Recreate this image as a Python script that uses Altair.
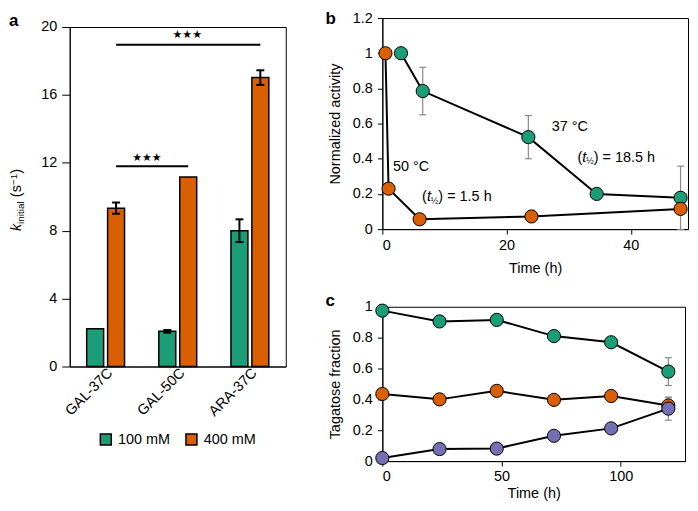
import altair as alt
import pandas as pd

GREEN = "#1b9e77"
ORANGE = "#d95f02"
PURPLE = "#7570b3"
GREY = "#8a8a8a"
FONT = "Liberation Sans"
FS = 14.5

# ---------------- panel a data ----------------
groups = ["GAL-37C", "GAL-50C", "ARA-37C"]
concs = ["100 mM", "400 mM"]
k_100 = [2.22, 2.07, 8.0]
k_100_err = [0.0, 0.08, 0.67]
k_400 = [9.33, 11.17, 17.02]
k_400_err = [0.33, 0.0, 0.43]
sig_from = ["GAL-37C", "GAL-37C"]
sig_to = ["ARA-37C", "GAL-50C"]
sig_level = [18.95, 11.8]
sig_star_y = [19.5, 12.3]
sig_label = ["★★★", "★★★"]

# ---------------- panel b data ----------------
time_37 = [3, 6.5, 23.5, 34.5, 48]
act_37 = [1.0, 0.785, 0.523, 0.20, 0.178]
err_37 = [0, 0.135, 0.123, 0, 0.18]
time_50 = [0.5, 1, 6, 24, 48]
act_50 = [1.0, 0.23, 0.056, 0.072, 0.115]
err_50 = [0, 0, 0, 0, 0]
temp_text = ["37 °C", "50 °C"]
temp_x = [27.25, 1.7]
temp_y = [0.58, 0.352]
hl_x = [31.4, 6.4]
hl_y = [0.407, 0.184]
hl_rest = [") = 18.5 h", ") = 1.5 h"]

# ---------------- panel c data ----------------
time_c = [0, 24, 48, 72, 96, 120]
frac_green = [0.975, 0.905, 0.915, 0.81, 0.77, 0.58]
err_green = [0, 0, 0, 0, 0, 0.09]
frac_orange = [0.435, 0.40, 0.455, 0.397, 0.422, 0.36]
err_orange = [0, 0, 0, 0, 0, 0.05]
frac_purple = [0.02, 0.078, 0.081, 0.164, 0.212, 0.34]
err_purple = [0, 0, 0, 0, 0, 0.075]


def one(text):
    return alt.Chart(pd.DataFrame({"t": [text]}))


def letter(text, x, y):
    return one(text).mark_text(font=FONT, fontSize=17, fontWeight="bold", align="left",
                               baseline="top", color="black").encode(
        x=alt.value(x), y=alt.value(y), text="t:N")


# ======================= PANEL A =======================
df_a = pd.DataFrame({
    "group": groups * 2,
    "conc": [concs[0]] * 3 + [concs[1]] * 3,
    "k": k_100 + k_400,
    "err": k_100_err + k_400_err,
})
df_a["lo"] = df_a["k"] - df_a["err"]
df_a["hi"] = df_a["k"] + df_a["err"]
df_a_err = df_a[df_a["err"] > 0]

x_scale_a = alt.Scale(domain=groups, paddingInner=0.475, paddingOuter=0.235)
xo_scale_a = alt.Scale(domain=concs, paddingInner=0.19, paddingOuter=0)
y_scale_a = alt.Scale(domain=[0, 20])
x_axis_a = alt.Axis(labelAngle=315, labelAlign="right", labelBaseline="middle",
                    ticks=False, labelPadding=4, labelOffset=5)
y_axis_a = alt.Axis(values=[0, 4, 8, 12, 16, 20], tickSize=8, labelPadding=5)


def xa():
    return alt.X("group:N", sort=groups, scale=x_scale_a, axis=x_axis_a, title=None)


def xoa():
    return alt.XOffset("conc:N", sort=concs, scale=xo_scale_a)


def ya(f):
    return alt.Y(f + ":Q", scale=y_scale_a, axis=y_axis_a, title=None)


bars = alt.Chart(df_a).mark_bar(stroke="black", strokeWidth=1.5).encode(
    x=xa(), xOffset=xoa(), y=ya("k"),
    color=alt.Color("conc:N", scale=alt.Scale(domain=concs, range=[GREEN, ORANGE]),
                    legend=alt.Legend(orient="none", legendX=29, legendY=416,
                                      direction="horizontal", title=None,
                                      symbolType="square", symbolSize=121,
                                      symbolStrokeColor="black", symbolStrokeWidth=1.5,
                                      symbolOpacity=1, labelFont=FONT, labelFontSize=FS,
                                      labelColor="black", columnPadding=12,
                                      labelOffset=5, padding=0)),
)
err_rule_a = alt.Chart(df_a_err).mark_rule(color="black", strokeWidth=2).encode(
    x=xa(), xOffset=xoa(), y=ya("lo"), y2="hi:Q")
cap_lo_a = alt.Chart(df_a_err).mark_tick(color="black", size=8, thickness=2,
                                         orient="horizontal", opacity=1).encode(
    x=xa(), xOffset=xoa(), y=ya("lo"))
cap_hi_a = alt.Chart(df_a_err).mark_tick(color="black", size=8, thickness=2,
                                         orient="horizontal", opacity=1).encode(
    x=xa(), xOffset=xoa(), y=ya("hi"))

sig_rows = []
for i, (g1, g2, lv) in enumerate(zip(sig_from, sig_to, sig_level)):
    sig_rows.append({"id": i, "group": g1, "conc": "400 mM", "level": lv})
    sig_rows.append({"id": i, "group": g2, "conc": "400 mM", "level": lv})
sig_line = alt.Chart(pd.DataFrame(sig_rows)).mark_line(color="black", strokeWidth=2).encode(
    x=xa(), xOffset=xoa(), y=ya("level"), detail="id:N")

star_top = alt.Chart(pd.DataFrame({"group": ["GAL-50C"], "conc": ["400 mM"],
                                   "sy": [sig_star_y[0]], "label": [sig_label[0]]})
                     ).mark_text(font="DejaVu Sans", fontSize=11, color="black", dx=-1).encode(
    x=xa(), xOffset=xoa(), y=ya("sy"), text="label:N")
star_low = alt.Chart(pd.DataFrame({"group": ["GAL-37C"], "conc": ["400 mM"],
                                   "sy": [sig_star_y[1]], "label": [sig_label[1]]})
                     ).mark_text(font="DejaVu Sans", fontSize=11, color="black", dx=31).encode(
    x=xa(), xOffset=xoa(), y=ya("sy"), text="label:N")


def rot_piece(text, x, y, size, style="normal"):
    return one(text).mark_text(font=FONT, fontSize=size, fontStyle=style, angle=270,
                               align="left", baseline="alphabetic", color="black").encode(
        x=alt.value(x), y=alt.value(y), text="t:N")


title_a = [
    rot_piece("k", -49, 205, FS, "italic"),
    rot_piece("initial", -46, 197.75, 10),
    rot_piece("(s", -49, 170.9, FS),
    rot_piece("−1", -53, 158.8, 10),
    rot_piece(")", -49, 147.4, FS),
]

panel_a = alt.layer(bars, err_rule_a, cap_lo_a, cap_hi_a, sig_line, star_top, star_low,
                    *title_a, letter("a", -61, -14)).properties(width=217, height=341)

# invisible 1-px strip that lets panel a sit lower than panel b
spacer_a = one("").mark_rule(strokeOpacity=0).encode(
    x=alt.value(0), x2=alt.value(1), y=alt.value(0)
).properties(width=217, height=1, view=alt.ViewBackground(stroke="transparent"))

# ======================= PANEL B =======================
df_b = pd.DataFrame({
    "time": time_37 + time_50,
    "act": act_37 + act_50,
    "err": err_37 + err_50,
    "series": ["37"] * len(time_37) + ["50"] * len(time_50),
    "fill": [GREEN] * len(time_37) + [ORANGE] * len(time_50),
})
df_b["lo"] = df_b["act"] - df_b["err"]
df_b["hi"] = df_b["act"] + df_b["err"]
df_b_err = df_b[df_b["err"] > 0]

x_axis_b = alt.Axis(values=[0, 20, 40], tickSize=5, labelPadding=4, titlePadding=10)
y_axis_b = alt.Axis(values=[0, 0.2, 0.4, 0.6, 0.8, 1.0, 1.2], format="~g", tickSize=5,
                    labelPadding=5, titlePadding=10)


def xb(f="time"):
    return alt.X(f + ":Q", scale=alt.Scale(domain=[0, 49.2]), axis=x_axis_b, title="Time (h)")


def yb(f):
    return alt.Y(f + ":Q", scale=alt.Scale(domain=[0, 1.2]), axis=y_axis_b,
                 title="Normalized activity")


err_b = alt.Chart(df_b_err).mark_rule(color=GREY, strokeWidth=1.2).encode(
    x=xb(), y=yb("lo"), y2="hi:Q")
cap1_b = alt.Chart(df_b_err).mark_tick(color=GREY, size=7, thickness=1.2,
                                       orient="horizontal", opacity=1).encode(x=xb(), y=yb("lo"))
cap2_b = alt.Chart(df_b_err).mark_tick(color=GREY, size=7, thickness=1.2,
                                       orient="horizontal", opacity=1).encode(x=xb(), y=yb("hi"))
line_b = alt.Chart(df_b).mark_line(color="black", strokeWidth=2).encode(
    x=xb(), y=yb("act"), detail="series:N")
pts_b = alt.Chart(df_b).mark_circle(size=175, opacity=1, stroke="black", strokeWidth=1).encode(
    x=xb(), y=yb("act"), color=alt.Color("fill:N", scale=None))

df_temp = pd.DataFrame({"tx": temp_x, "ty": temp_y, "label": temp_text})
temp_b = alt.Chart(df_temp).mark_text(font=FONT, fontSize=FS, align="left", baseline="middle",
                                      color="black").encode(
    x=xb("tx"), y=yb("ty"), text="label:N")

df_hl = pd.DataFrame({"tx": hl_x, "ty": hl_y, "rest": hl_rest,
                      "p": ["("] * 2, "t": ["t"] * 2, "h": ["½"] * 2})


def hl_piece(field, dx, size, style="normal", dy=0):
    return alt.Chart(df_hl).mark_text(font=FONT, fontSize=size, fontStyle=style, align="left",
                                      baseline="middle", color="black", dx=dx, dy=dy).encode(
        x=xb("tx"), y=yb("ty"), text=field + ":N")


hl_b = [
    hl_piece("p", 0, FS),
    hl_piece("t", 4.8, FS, "italic"),
    hl_piece("h", 8.8, 9, dy=4),
    hl_piece("rest", 16.3, FS),
]

panel_b = alt.layer(err_b, cap1_b, cap2_b, line_b, pts_b, temp_b, *hl_b,
                    letter("b", -57, -7)).properties(width=307, height=212)

# ======================= PANEL C =======================
n = len(time_c)
df_c = pd.DataFrame({
    "time": time_c * 3,
    "frac": frac_green + frac_orange + frac_purple,
    "err": err_green + err_orange + err_purple,
    "series": ["g"] * n + ["o"] * n + ["p"] * n,
    "fill": [GREEN] * n + [ORANGE] * n + [PURPLE] * n,
})
df_c["lo"] = df_c["frac"] - df_c["err"]
df_c["hi"] = df_c["frac"] + df_c["err"]
df_c_err = df_c[df_c["err"] > 0]

x_axis_c = alt.Axis(values=[0, 50, 100], tickSize=5, labelPadding=3, titlePadding=4)
y_axis_c = alt.Axis(values=[0, 0.2, 0.4, 0.6, 0.8, 1.0], format="~g", tickSize=5,
                    labelPadding=5, titlePadding=10)


def xc(f="time"):
    return alt.X(f + ":Q", scale=alt.Scale(domain=[0, 127]), axis=x_axis_c, title="Time (h)")


def yc(f):
    return alt.Y(f + ":Q", scale=alt.Scale(domain=[0, 1]), axis=y_axis_c,
                 title="Tagatose fraction")


err_c = alt.Chart(df_c_err).mark_rule(color=GREY, strokeWidth=1.2).encode(
    x=xc(), y=yc("lo"), y2="hi:Q")
cap1_c = alt.Chart(df_c_err).mark_tick(color=GREY, size=7, thickness=1.2,
                                       orient="horizontal", opacity=1).encode(x=xc(), y=yc("lo"))
cap2_c = alt.Chart(df_c_err).mark_tick(color=GREY, size=7, thickness=1.2,
                                       orient="horizontal", opacity=1).encode(x=xc(), y=yc("hi"))
line_c = alt.Chart(df_c).mark_line(color="black", strokeWidth=2).encode(
    x=xc(), y=yc("frac"), detail="series:N")
pts_c = alt.Chart(df_c).mark_circle(size=175, opacity=1, stroke="black", strokeWidth=1).encode(
    x=xc(), y=yc("frac"), color=alt.Color("fill:N", scale=None))

panel_c = alt.layer(err_c, cap1_c, cap2_c, line_c, pts_c, letter("c", -57, -14)
                    ).properties(width=304, height=155)

# ======================= LAYOUT =======================
left = alt.vconcat(spacer_a, panel_a, spacing=-9)
right = alt.vconcat(panel_b, panel_c, spacing=15)
chart = alt.hconcat(left, right, spacing=38).properties(
    padding=0, background="white"
).configure_view(
    stroke="black", strokeWidth=1
).configure_axis(
    labelFont=FONT, titleFont=FONT, labelFontSize=FS, titleFontSize=FS,
    titleFontWeight="normal", labelColor="black", titleColor="black",
    domainColor="black", tickColor="black", grid=False, domainWidth=1, tickWidth=1
)

chart.save("out.html", embed_options={"renderer": "svg", "actions": False})
